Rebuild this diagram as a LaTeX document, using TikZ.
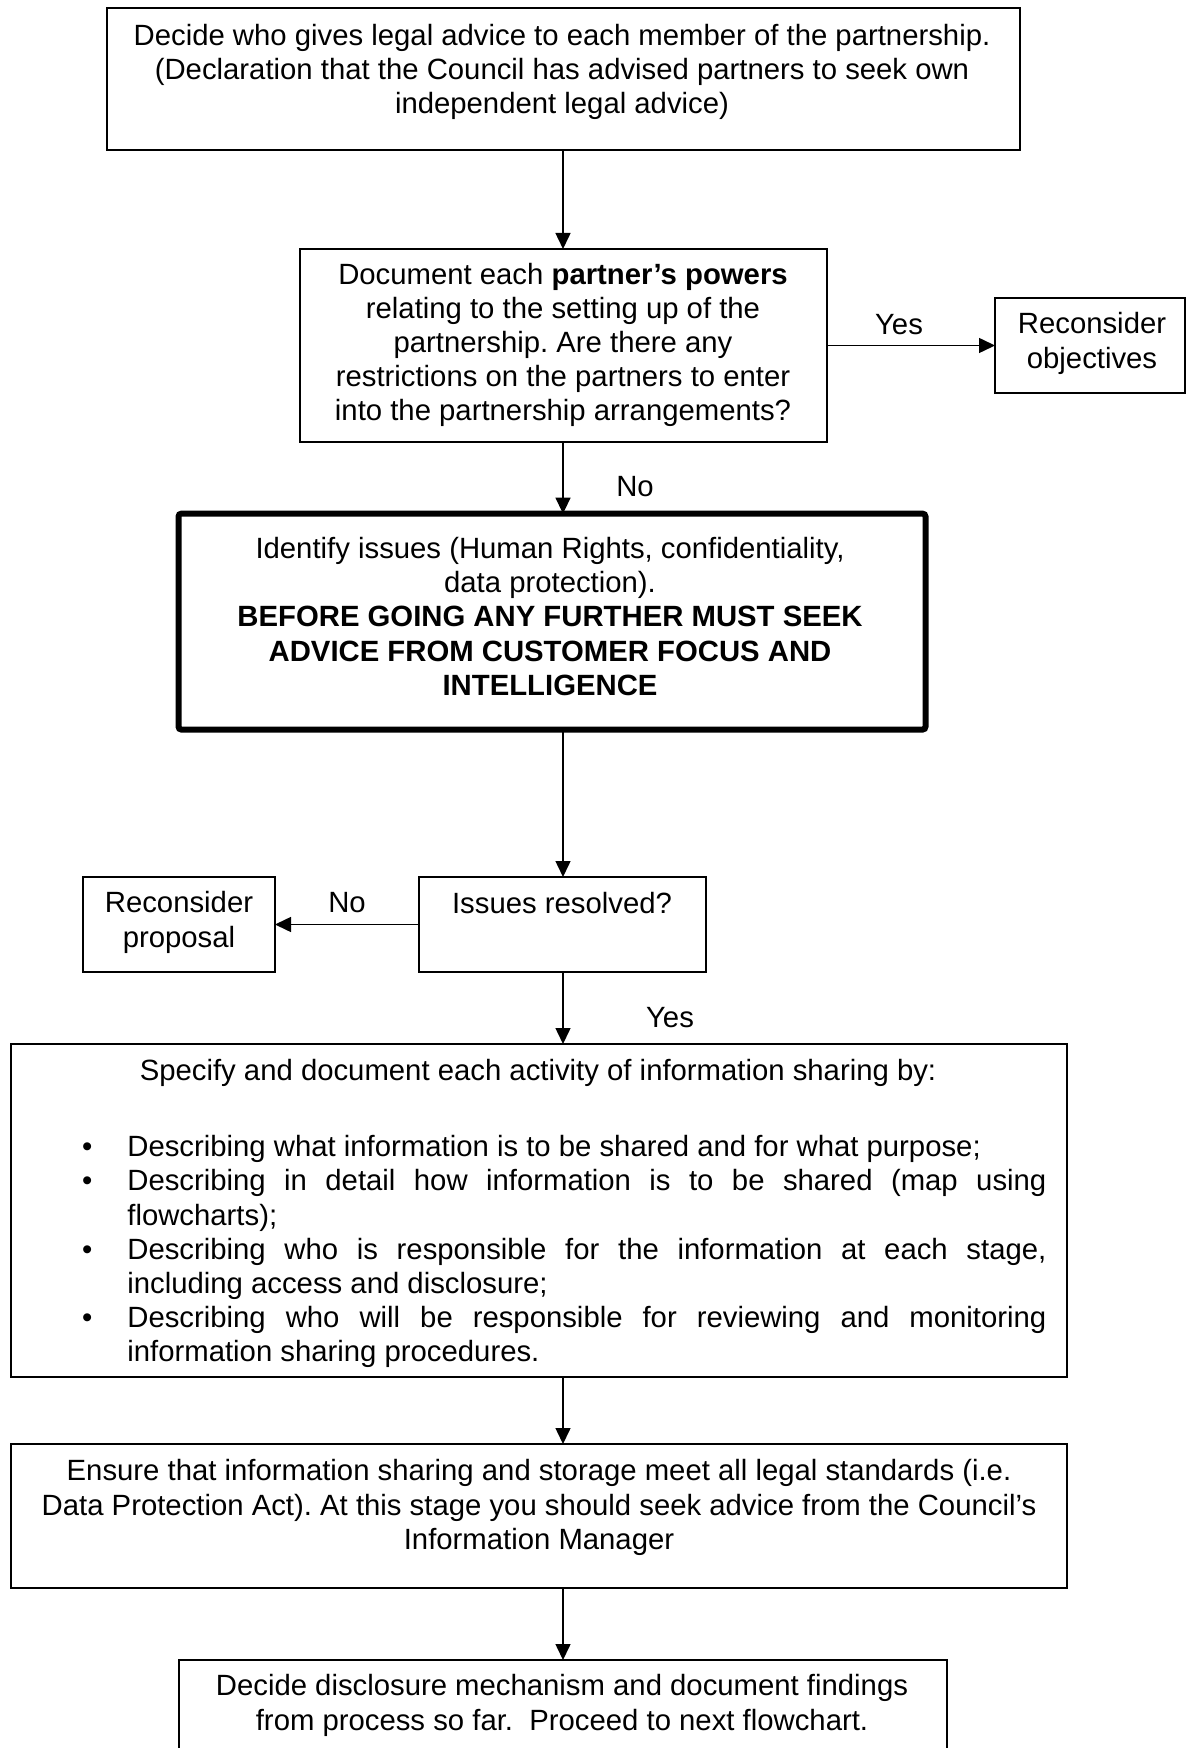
\documentclass[tikz,border=0pt]{standalone}
\usepackage{fontspec}
\setmainfont{Liberation Sans}
\usetikzlibrary{arrows.meta}
\tikzset{
  box/.style={draw, line width=0.85pt, inner sep=0pt, outer sep=0pt},
  heavybox/.style={draw, line width=3pt, rounded corners=1.5pt, inner sep=0pt, outer sep=0pt},
  txt/.style={align=center, inner sep=0pt},
  flow/.style={line width=0.75pt, -{Triangle[length=8pt,width=7.5pt]}},
  lbl/.style={inner sep=0pt}
}
\newcommand\bulletitem{\par\noindent\llap{\textbullet\hspace{17.5pt}}}
\frenchspacing
\begin{document}
\begin{tikzpicture}[x=0.5pt,y=-0.5pt,font=\fontsize{14.65}{17.1}\selectfont]
\useasboundingbox (0,0) rectangle (1186,1748);
\fill[white] (0,0) rectangle (1186,1748);
\coordinate (col) at (563,0);

% boxes
\node[box, minimum width=456.5pt, minimum height=71pt]  (b1) at (563.5,79) {};
\node[box, minimum width=263.5pt, minimum height=96.5pt] (b2) at (563.5,345.5) {};
\node[box, minimum width=95pt, minimum height=47.5pt]   (ro) at (1090,345.5) {};
\node[heavybox, minimum width=373.5pt, minimum height=108pt] (tb) at (552,621.6) {};
\node[box, minimum width=143.5pt, minimum height=47.5pt] (ir) at (562.5,924.5) {};
\node[box, minimum width=96pt, minimum height=47.5pt]   (rp) at (179,924.5) {};
\node[box, minimum width=528pt, minimum height=166.5pt] (sp) at (539,1210.5) {};
\node[box, minimum width=528pt, minimum height=72pt]    (en) at (539,1516) {};
\node[box, minimum width=384pt, minimum height=55pt]    (dc) at (563,1715) {};

% texts
\node[txt] (t1) at (562,72) {Decide who gives legal advice to each member of the partnership.\\
(Declaration that the Council has advised partners to seek own\\
independent legal advice)};
\node[txt] (t2) at (563,345) {Document each \textbf{partner’s powers}\\
relating to the setting up of the\\
partnership. Are there any\\
restrictions on the partners to enter\\
into the partnership arrangements?};
\node[txt] (t3) at (1092,343.5) {Reconsider\\objectives};
\node[txt] (t4) at (550,616.5) {Identify issues (Human Rights, confidentiality,\\
data protection).\\
\textbf{BEFORE GOING ANY FURTHER MUST SEEK}\\
\textbf{ADVICE FROM CUSTOMER FOCUS AND}\\
\textbf{INTELLIGENCE}};
\node[txt] (t5) at (562,903) {Issues resolved?};
\node[txt] (t6) at (179,922.5) {Reconsider\\proposal};
\node[txt] (t7) at (538,1073) {Specify and document each activity of information sharing by:};
\node[inner sep=0pt, anchor=north west, text width=459.5pt, align=justify]
  (t8) at (127,1122) {\hyphenpenalty=10000 \exhyphenpenalty=10000 %
\bulletitem Describing what information is to be shared and for what purpose;
\bulletitem Describing in detail how information is to be shared (map using\linebreak
flowcharts);
\bulletitem Describing who is responsible for the information at each stage,\linebreak
including access and disclosure;
\bulletitem Describing who will be responsible for reviewing and monitoring\linebreak
information sharing procedures.\par};
\node[txt] (t9) at (539,1507.5) {Ensure that information sharing and storage meet all legal standards (i.e.\\
Data Protection Act). At this stage you should seek advice from the Council’s\\
Information Manager};
\node[txt] (t10) at (562,1705.5) {Decide disclosure mechanism and document findings\\
from process so far.\ \ Proceed to next flowchart.};

% connectors
\draw[flow] (col |- b1.south) -- (col |- b2.north);
\draw[flow] (b2.east) -- (ro.west);
\draw[flow] (col |- b2.south) -- (col |- tb.north);
\draw[flow] (col |- tb.south) -- (col |- ir.north);
\draw[flow] (ir.west) -- (rp.east);
\draw[flow] (col |- ir.south) -- (col |- sp.north);
\draw[flow] (col |- sp.south) -- (col |- en.north);
\draw[flow] (col |- en.south) -- (col |- dc.north);

% branch labels
\node[lbl] (y1) at (899,325) {Yes};
\node[lbl] (n1) at (635,487) {No};
\node[lbl] (n2) at (347,903) {No};
\node[lbl] (y2) at (670,1018) {Yes};
\end{tikzpicture}
\end{document}
